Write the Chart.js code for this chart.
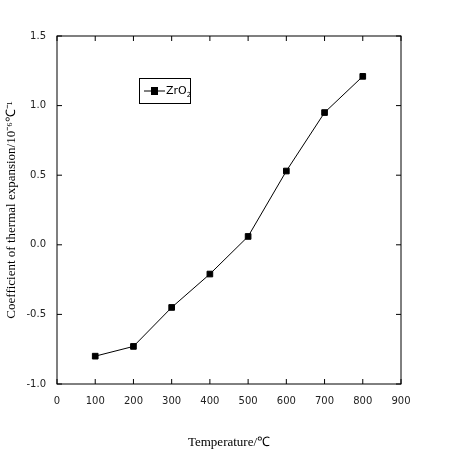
<!DOCTYPE html>
<html>
<head>
<script src="https://cdn.jsdelivr.net/npm/chart.js@4/dist/chart.umd.min.js"></script>
<style>body{margin:0;background:#fff}#wrap{width:450px;height:450px}</style>
</head>
<body>
<div id="wrap"><canvas id="c"></canvas></div>
<script>
// Datos
const temperatures = [100, 200, 300, 400, 500, 600, 700, 800];
const cteValues = [-0.80, -0.73, -0.45, -0.21, 0.06, 0.53, 0.95, 1.21];
const seriesLabel = "ZrO\u2082";

// Marco y marcas hacia adentro, como en Origin
const framePlugin = {
  id: "frame",
  afterDraw(chart) {
    const { ctx, chartArea: a, scales } = chart;
    ctx.save();
    ctx.strokeStyle = "#000";
    ctx.lineWidth = 1;
    ctx.strokeRect(a.left, a.top, a.right - a.left, a.bottom - a.top);
    ctx.beginPath();
    scales.x.ticks.forEach((t) => {
      const x = scales.x.getPixelForValue(t.value);
      ctx.moveTo(x, a.bottom); ctx.lineTo(x, a.bottom - 5);
      ctx.moveTo(x, a.top); ctx.lineTo(x, a.top + 5);
    });
    scales.y.ticks.forEach((t) => {
      const y = scales.y.getPixelForValue(t.value);
      ctx.moveTo(a.left, y); ctx.lineTo(a.left + 5, y);
      ctx.moveTo(a.right, y); ctx.lineTo(a.right - 5, y);
    });
    ctx.stroke();
    // Leyenda con recuadro
    ctx.strokeRect(139.5, 78.5, 51, 25);
    ctx.beginPath();
    ctx.moveTo(144, 91); ctx.lineTo(165, 91);
    ctx.stroke();
    ctx.fillStyle = "#000";
    ctx.fillRect(151, 87, 7, 8);
    ctx.font = "11px 'DejaVu Sans'";
    ctx.textBaseline = "middle";
    ctx.fillText("ZrO", 166, 91);
    const w = ctx.measureText("ZrO").width;
    ctx.font = "7px 'DejaVu Sans'";
    ctx.fillText("2", 166 + w, 95);
    ctx.restore();
  },
};

new Chart(document.getElementById("c"), {
  type: "line",
  data: {
    labels: temperatures,
    datasets: [{
      label: seriesLabel,
      data: temperatures.map((t, i) => ({ x: t, y: cteValues[i] })),
      borderColor: "#000",
      backgroundColor: "#000",
      borderWidth: 1,
      pointStyle: "rect",
      pointRadius: 4,
      tension: 0,
    }],
  },
  options: {
    responsive: true,
    maintainAspectRatio: false,
    animation: false,
    layout: { padding: { left: 0, right: 49, top: 36, bottom: 0 } },
    plugins: { legend: { display: false }, tooltip: { enabled: false } },
    scales: {
      x: {
        type: "linear", min: 0, max: 900,
        ticks: { stepSize: 100, color: "#222", font: { size: 10, family: "DejaVu Sans" } },
        grid: { display: false },
        border: { display: false },
        title: { display: true, text: "Temperature/\u2103", color: "#000", padding: { top: 12, bottom: 0 }, font: { size: 13, family: "Liberation Serif" } },
        afterFit: (s) => { s.height = 66; },
      },
      y: {
        min: -1.0, max: 1.5,
        ticks: { stepSize: 0.5, color: "#222", font: { size: 10, family: "DejaVu Sans" }, callback: (v) => v.toFixed(1) },
        grid: { display: false },
        border: { display: false },
        title: { display: true, text: "Coefficient of thermal expansion/10\u207B\u2076\u2103\u207B\u00B9", color: "#000", font: { size: 13, family: "Liberation Serif" } },
        afterFit: (s) => { s.width = 57; },
      },
    },
  },
  plugins: [framePlugin],
});
</script>
</body>
</html>
